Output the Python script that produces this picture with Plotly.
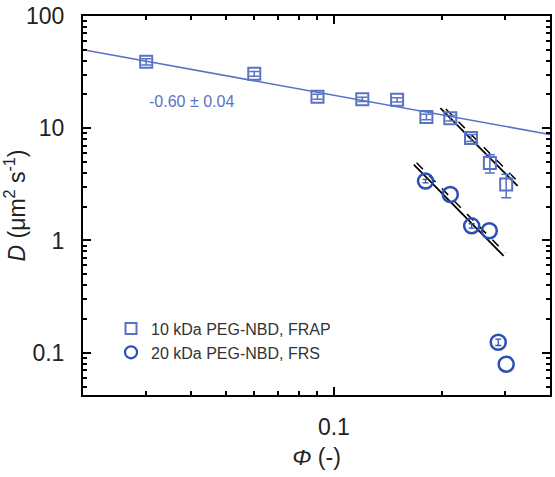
import numpy as np
import plotly.graph_objects as go

# FRAP, 10 kDa PEG-NBD
phi_frap = [0.030, 0.060, 0.090, 0.120, 0.150, 0.181, 0.211, 0.241, 0.272, 0.302]
D_frap = [39.1, 30.6, 19.1, 18.1, 17.9, 12.6, 12.3, 8.2, 4.9, 3.15]
D_frap_err = [2.5, 1.5, 1.0, 0.8, 0.8, 0.7, 0.7, 0.6, 0.9, 0.75]

# FRS, 20 kDa PEG-NBD (None = no visible error bar)
phi_frs = [0.180, 0.211, 0.242, 0.271, 0.287, 0.302]
D_frs = [3.38, 2.57, 1.35, 1.22, 0.124, 0.079]
D_frs_err = [0.12, None, 0.06, None, 0.008, None]

# power-law fits
fit_blue = dict(prefactor=50 * 0.02 ** 0.58, exponent=-0.58, lo=0.02, hi=0.4)
fit_frap = dict(prefactor=15.1 * 0.198 ** 3.22, exponent=-3.22, lo=0.198, hi=0.325)
fit_frs = dict(prefactor=4.74 * 0.167 ** 3.25, exponent=-3.25, lo=0.167, hi=0.297)
fit_label = "-0.60 ± 0.04"

SQ = "#5a72c4"
CI = "#2b4fb5"
FONT = "Arial, Liberation Sans, sans-serif"


def fit_curve(p, shift=1.0, lo=None, hi=None):
    lo = p["lo"] if lo is None else lo
    hi = p["hi"] if hi is None else hi
    x = np.logspace(np.log10(lo), np.log10(hi), 30)
    return x, shift * p["prefactor"] * x ** p["exponent"]


fig = go.Figure()

x, y = fit_curve(fit_blue)
fig.add_trace(go.Scatter(x=x, y=y, mode="lines", line=dict(color=SQ, width=1.6), showlegend=False))

for p, lo_d, hi_d in [(fit_frap, 0.205, 0.33), (fit_frs, 0.17, 0.30)]:
    x, y = fit_curve(p)
    fig.add_trace(go.Scatter(x=x, y=y, mode="lines", line=dict(color="black", width=1.8), showlegend=False))
    x, y = fit_curve(p, shift=1.1, lo=lo_d, hi=hi_d)
    fig.add_trace(go.Scatter(x=x, y=y, mode="lines", line=dict(color="black", width=1.5, dash="dash"),
                             showlegend=False))

fig.add_trace(go.Scatter(
    x=phi_frap, y=D_frap, mode="markers",
    error_y=dict(type="data", array=D_frap_err, color=SQ, thickness=1.5, width=5),
    marker=dict(symbol="square-open", size=12, color=SQ, line=dict(width=2, color=SQ)),
    showlegend=False))

# error bars for FRS points that have them
idx = [i for i, e in enumerate(D_frs_err) if e is not None]
fig.add_trace(go.Scatter(
    x=[phi_frs[i] for i in idx], y=[D_frs[i] for i in idx], mode="markers",
    error_y=dict(type="data", array=[D_frs_err[i] for i in idx], color=CI, thickness=1.3, width=3),
    marker=dict(size=1, opacity=0), showlegend=False, hoverinfo="skip"))
fig.add_trace(go.Scatter(
    x=phi_frs, y=D_frs, mode="markers",
    marker=dict(symbol="circle-open", size=15, color=CI, line=dict(width=2.5, color=CI)),
    showlegend=False))

# legend entries
fig.add_trace(go.Scatter(x=[None], y=[None], mode="markers", name="10 kDa PEG-NBD, FRAP",
                         marker=dict(symbol="square-open", size=11, color=SQ, line=dict(width=2, color=SQ))))
fig.add_trace(go.Scatter(x=[None], y=[None], mode="markers", name="20 kDa PEG-NBD, FRS",
                         marker=dict(symbol="circle-open", size=12, color=CI, line=dict(width=2.2, color=CI))))

fig.add_annotation(x=np.log10(0.04), y=np.log10(17.3), text=fit_label, showarrow=False,
                   font=dict(size=16, color=SQ, family=FONT))

x_minor = [0.03, 0.04, 0.05, 0.06, 0.07, 0.08, 0.09, 0.2, 0.3, 0.4]
y_minor = [v * m for m in [0.01, 0.1, 1, 10] for v in range(2, 10)]
y_minor = [v for v in y_minor if v > 0.04]

axis_common = dict(type="log", showgrid=False, zeroline=False, showline=True, linecolor="black",
                   linewidth=2, mirror="ticks", ticks="inside", ticklen=8, tickwidth=2,
                   tickcolor="black", tickfont=dict(size=23, color="#222", family=FONT))

fig.update_xaxes(**axis_common, range=[np.log10(0.02), np.log10(0.4)], tickvals=[0.1], ticktext=["0.1"],
                 ticklabelstandoff=10,
                 minor=dict(tickvals=x_minor, ticks="inside", ticklen=4, tickwidth=2, tickcolor="black"),
                 title=dict(text="<i>Φ</i> (-)", font=dict(size=23, color="#222", family=FONT), standoff=10))
fig.update_yaxes(**axis_common, range=[np.log10(0.042), 2], tickvals=[0.1, 1, 10, 100],
                 ticktext=["0.1", "1", "10", "100"], ticklabelstandoff=12,
                 minor=dict(tickvals=y_minor, ticks="inside", ticklen=4, tickwidth=2, tickcolor="black"),
                 title=dict(text="<i>D</i> (μm<sup>2</sup> s<sup>-1</sup>)",
                            font=dict(size=23, color="#222", family=FONT), standoff=2))

fig.update_layout(
    width=555, height=477, margin=dict(l=83, r=3, t=14, b=82),
    paper_bgcolor="white", plot_bgcolor="white",
    font=dict(family=FONT),
    legend=dict(x=0.06, y=0.22, xanchor="left", yanchor="top", bgcolor="rgba(0,0,0,0)",
                font=dict(size=16, color="#333", family=FONT), tracegroupgap=0, itemwidth=30),
)

fig.write_html("out.html")
